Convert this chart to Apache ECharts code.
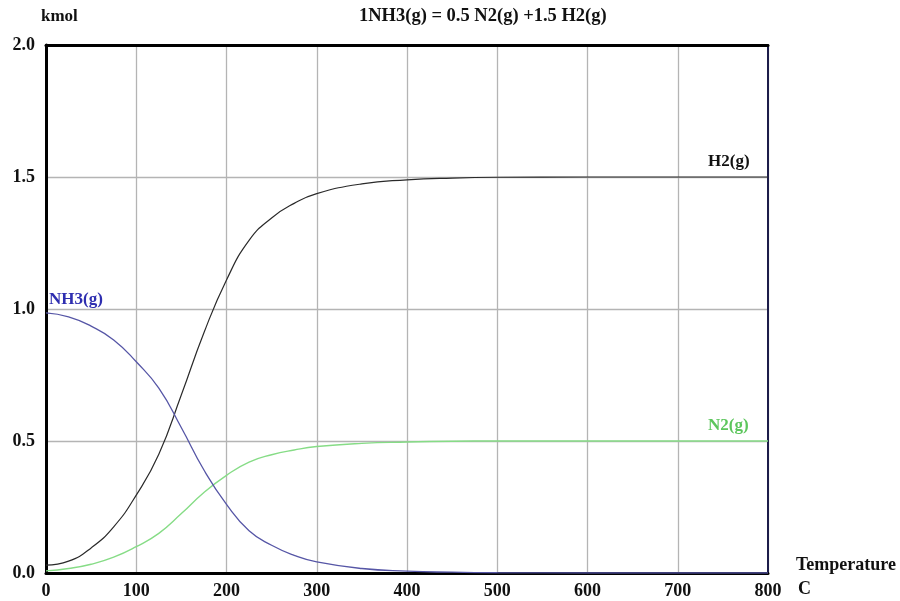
<!DOCTYPE html>
<html>
<head>
<meta charset="utf-8">
<script src="https://cdn.jsdelivr.net/npm/echarts@6/dist/echarts.min.js"></script>
<style>
  html, body { margin: 0; padding: 0; background: #fff; }
  #chart-container { width: 900px; height: 601px; }
</style>
</head>
<body>
<div id="chart-container"></div>
<script>
var dom = document.getElementById('chart-container');
var myChart = echarts.init(dom, null, { renderer: 'canvas' });

// values (kmol vs temperature, C)
var temps = [0, 25, 50, 75, 100, 125, 150, 175, 200, 225, 250, 275, 300, 350, 400, 450, 500, 600, 700, 800];
var h2    = [0.03, 0.045, 0.095, 0.175, 0.295, 0.45, 0.675, 0.91, 1.11, 1.26, 1.345, 1.40, 1.437, 1.474, 1.489, 1.496, 1.499, 1.5, 1.5, 1.5];
var nh3   = [0.985, 0.97, 0.935, 0.883, 0.80, 0.70, 0.55, 0.39, 0.26, 0.16, 0.105, 0.067, 0.042, 0.017, 0.007, 0.003, 0.001, 0, 0, 0];
var n2    = [0.008, 0.017, 0.033, 0.06, 0.10, 0.15, 0.225, 0.305, 0.37, 0.42, 0.448, 0.466, 0.479, 0.491, 0.496, 0.499, 0.5, 0.5, 0.5, 0.5];

var xTicks = [0, 100, 200, 300, 400, 500, 600, 700, 800];

var FONT = '"Liberation Serif", "Times New Roman", serif';

function pairs(ys) {
  return temps.map(function (t, i) { return [t, ys[i]]; });
}

function lineSeries(name, ys, color, width) {
  return {
    name: name,
    type: 'line',
    data: pairs(ys),
    smooth: 0.5,
    showSymbol: false,
    symbol: 'none',
    lineStyle: { color: color, width: width },
    z: 3
  };
}

var option = {
  animation: false,
  backgroundColor: '#fff',
  textStyle: { fontFamily: FONT },
  grid: { left: 46, right: 132, top: 45, bottom: 28 },
  xAxis: [{
    type: 'value',
    min: 0, max: 800, interval: 100,
    axisLine: { show: true, lineStyle: { color: '#000', width: 3 } },
    axisTick: { show: false },
    axisLabel: {
      margin: 9, color: '#111', fontSize: 18, fontWeight: 'bold', fontFamily: FONT,
      formatter: function (v) { return xTicks.indexOf(v) >= 0 ? String(v) : ''; }
    },
    splitLine: { show: true, lineStyle: { color: '#b4b4b4', width: 1.3 } }
  }, {
    type: 'value',
    position: 'top',
    min: 0, max: 800, interval: 100,
    axisLine: { show: true, onZero: false, lineStyle: { color: '#000', width: 3 } },
    axisTick: { show: false },
    axisLabel: { show: false },
    splitLine: { show: false }
  }],
  yAxis: [{
    type: 'value',
    min: 0, max: 2, interval: 0.5,
    axisLine: { show: true, lineStyle: { color: '#000', width: 3 } },
    axisTick: { show: false },
    axisLabel: {
      margin: 11, color: '#111', fontSize: 18, fontWeight: 'bold', fontFamily: FONT,
      formatter: function (v) { return v.toFixed(1); }
    },
    splitLine: { show: true, lineStyle: { color: '#b4b4b4', width: 1.3 } }
  }, {
    type: 'value',
    position: 'right',
    min: 0, max: 2, interval: 0.5,
    axisLine: { show: true, onZero: false, lineStyle: { color: '#1c1c4a', width: 2 } },
    axisTick: { show: false },
    axisLabel: { show: false },
    splitLine: { show: false }
  }],
  series: [
    lineSeries('H2(g)', h2, '#2a2a2a', 1.2),
    lineSeries('N2(g)', n2, '#86dc86', 1.4),
    lineSeries('NH3(g)', nh3, '#5656a6', 1.3)
  ],
  graphic: [
    { type: 'text', left: 41, top: 8,
      style: { text: 'kmol', font: 'bold 17px ' + FONT, fill: '#111' } },
    { type: 'text', left: 359, top: 7,
      style: { text: '1NH3(g) = 0.5 N2(g) +1.5 H2(g)', font: 'bold 18.5px ' + FONT, fill: '#111' } },
    { type: 'text', left: 796, top: 556,
      style: { text: 'Temperature', font: 'bold 18px ' + FONT, fill: '#111' } },
    { type: 'text', left: 798, top: 580,
      style: { text: 'C', font: 'bold 18px ' + FONT, fill: '#111' } },
    { type: 'text', left: 708, top: 153,
      style: { text: 'H2(g)', font: 'bold 17px ' + FONT, fill: '#111' } },
    { type: 'text', left: 708, top: 417,
      style: { text: 'N2(g)', font: 'bold 17px ' + FONT, fill: '#5cc65c' } },
    { type: 'text', left: 49, top: 291,
      style: { text: 'NH3(g)', font: 'bold 17px ' + FONT, fill: '#2e2eb0' } }
  ]
};

myChart.setOption(option);
window.addEventListener('resize', myChart.resize);
</script>
</body>
</html>
